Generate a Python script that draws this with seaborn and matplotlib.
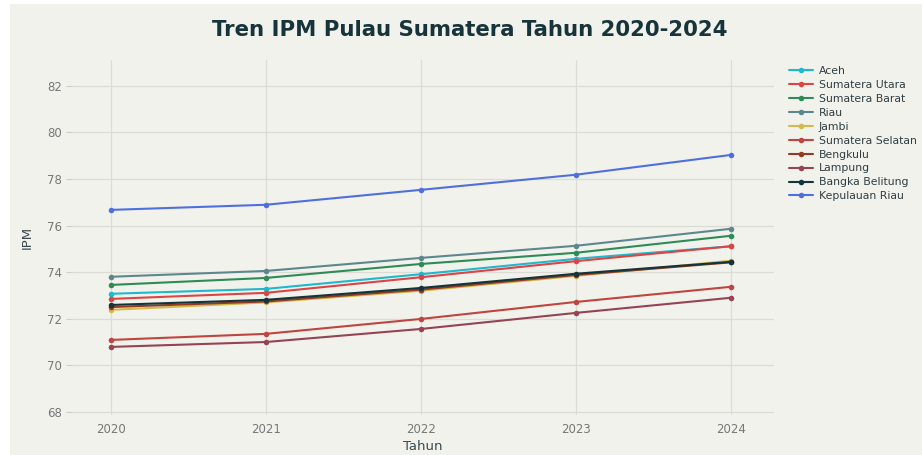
import pandas as pd
import seaborn as sns
import matplotlib.pyplot as plt
from matplotlib.patches import Rectangle

years = [2020, 2021, 2022, 2023, 2024]
provinces = ['Aceh', 'Sumatera Utara', 'Sumatera Barat', 'Riau', 'Jambi',
             'Sumatera Selatan', 'Bengkulu', 'Lampung', 'Bangka Belitung', 'Kepulauan Riau']

aceh = [73.07, 73.28, 73.91, 74.57, 75.11]
sumut = [72.85, 73.11, 73.78, 74.47, 75.11]
sumbar = [73.45, 73.75, 74.35, 74.83, 75.56]
riau = [73.80, 74.05, 74.61, 75.13, 75.86]
jambi = [72.38, 72.70, 73.20, 73.84, 74.49]
sumsel = [71.09, 71.35, 71.99, 72.72, 73.37]
bengkulu = [72.50, 72.74, 73.25, 73.88, 74.42]
lampung = [70.79, 71.00, 71.56, 72.25, 72.90]
babel = [72.59, 72.81, 73.32, 73.93, 74.44]
kepri = [76.67, 76.89, 77.53, 78.18, 79.03]

colors = ['#1FB8CD', '#DB4545', '#2E8B57', '#5D878F', '#D2BA4C',
          '#C0443F', '#943A22', '#944454', '#13343B', '#4F6FE0']

series = [aceh, sumut, sumbar, riau, jambi, sumsel, bengkulu, lampung, babel, kepri]
rows = []
for name, vals in zip(provinces, series):
    for y, v in zip(years, vals):
        rows.append({'Tahun': y, 'IPM': v, 'Provinsi': name})
df = pd.DataFrame(rows)

bg = '#F2F2EC'
sns.set_style('white')
plt.rcParams['font.family'] = ['DejaVu Sans']

fig = plt.figure(figsize=(9.22, 4.55), dpi=100, facecolor='white')
fig.patches.append(Rectangle((10 / 922, 0), 1, 451 / 455, transform=fig.transFigure,
                             facecolor=bg, edgecolor='none', zorder=-10))
ax = fig.add_axes([0.078, 0.088, 0.762, 0.78])
ax.set_facecolor(bg)

sns.lineplot(data=df, x='Tahun', y='IPM', hue='Provinsi', hue_order=provinces,
             palette=colors, marker='o', markersize=4, markeredgewidth=0,
             linewidth=1.5, ax=ax)

ax.set_xlim(2019.75, 2024.28)
ax.set_ylim(67.87, 83.1)
ax.set_xticks(years)
ax.set_yticks(range(68, 84, 2))
ax.grid(True, color='#DCDCD6', linewidth=0.9)
for s in ax.spines.values():
    s.set_visible(False)
ax.tick_params(axis='x', length=0, pad=6, labelsize=8.5, labelcolor='#777777')
ax.tick_params(axis='y', length=4, color='#CFCFCF', width=0.8, pad=3,
               labelsize=8.5, labelcolor='#777777', left=True)

ax.set_xlabel('Tahun', fontsize=9.5, color='#3A4A50', labelpad=3)
ax.set_ylabel('IPM', fontsize=9.5, color='#3A4A50', labelpad=10)

fig.suptitle('Tren IPM Pulau Sumatera Tahun 2020-2024', x=0.51, y=0.955,
             fontsize=15.3, fontweight='heavy', color='#17343B')

leg = ax.legend(loc='upper left', bbox_to_anchor=(1.015, 0.995), frameon=False,
                fontsize=7.8, handlelength=2.2, handletextpad=0.5,
                labelspacing=0.36, borderaxespad=0)
for t in leg.get_texts():
    t.set_color('#2E3E44')

plt.savefig('out.png', dpi=100, facecolor=fig.get_facecolor())
